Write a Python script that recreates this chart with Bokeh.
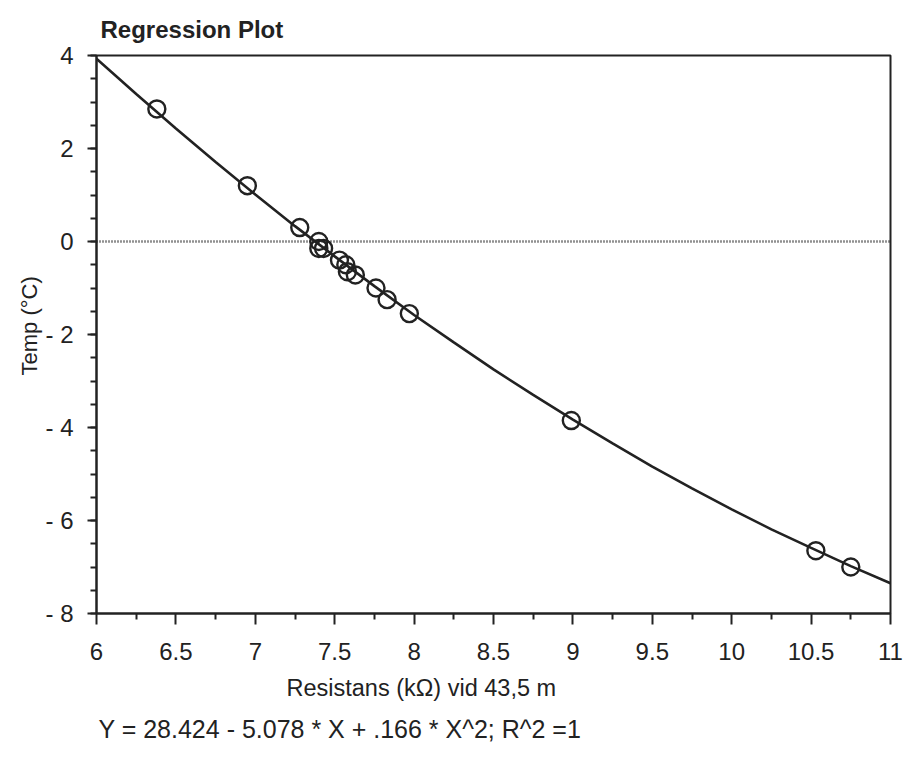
from bokeh.plotting import figure
from bokeh.models import (FixedTicker, Span, Range1d, CustomJSTickFormatter, Title)
from bokeh.embed import file_html
from bokeh.resources import INLINE

# ---- data ----
res_kohm = [6.38, 6.95, 7.28, 7.40, 7.40, 7.43, 7.53, 7.57, 7.58, 7.63,
            7.76, 7.83, 7.97, 8.99, 10.53, 10.75]
temp_c = [2.85, 1.2, 0.3, 0.0, -0.15, -0.15, -0.4, -0.5, -0.65, -0.72,
          -1.0, -1.25, -1.55, -3.85, -6.65, -7.0]

fit_x = [6.0, 6.25, 6.5, 6.75, 7.0, 7.25, 7.5, 7.75, 8.0, 8.25, 8.5,
         8.75, 9.0, 9.25, 9.5, 9.75, 10.0, 10.25, 10.5, 10.75, 11.0]
fit_y = [3.93, 3.17, 2.43, 1.71, 1.01, 0.33, -0.32, -0.96, -1.58, -2.17,
         -2.75, -3.30, -3.83, -4.34, -4.84, -5.31, -5.76, -6.19, -6.59,
         -6.98, -7.35]

x_ticks = [6, 6.5, 7, 7.5, 8, 8.5, 9, 9.5, 10, 10.5, 11]
x_minor = [6.25 + 0.5 * i for i in range(10)]
y_ticks = [-8, -6, -4, -2, 0, 2, 4]
y_minor = [-8 + 0.5 * i for i in range(25)]

title_text = "Regression Plot"
x_label = "Resistans (k\u03a9) vid 43,5 m"
y_label = "Temp (\u00b0C)"
equation = "Y = 28.424 - 5.078 * X + .166 * X^2; R^2 =1"

FONT = "Liberation Sans"
INK = "#222222"

p = figure(frame_width=794, frame_height=558, output_backend="svg",
           toolbar_location=None, x_range=Range1d(6, 11), y_range=Range1d(-8, 4),
           min_border_left=96, min_border_right=18, min_border_top=52,
           min_border_bottom=145)
p.background_fill_color = "white"
p.border_fill_color = "white"
p.outline_line_color = INK
p.outline_line_width = 2
p.xgrid.visible = False
p.ygrid.visible = False

p.title.text = title_text
p.title.text_font = FONT
p.title.text_font_size = "24px"
p.title.text_font_style = "bold"
p.title.text_color = INK
p.title.align = "left"
p.title.offset = 4
p.title.standoff = 26

for ax in (p.xaxis[0], p.yaxis[0]):
    ax.axis_line_color = INK
    ax.axis_line_width = 2
    ax.major_tick_line_color = INK
    ax.major_tick_line_width = 2
    ax.minor_tick_line_color = INK
    ax.minor_tick_line_width = 2
    ax.major_tick_in = 0
    ax.minor_tick_in = 0
    ax.major_label_text_font = FONT
    ax.major_label_text_font_size = "24px"
    ax.major_label_text_color = INK

xa = p.xaxis[0]
xa.ticker = FixedTicker(ticks=x_ticks, minor_ticks=x_minor)
xa.major_tick_out = 11
xa.minor_tick_out = 6
xa.major_label_standoff = 18
xa.formatter = CustomJSTickFormatter(code="return String(tick);")

ya = p.yaxis[0]
ya.ticker = FixedTicker(ticks=y_ticks, minor_ticks=y_minor)
ya.major_tick_out = 9
ya.minor_tick_out = 6
ya.major_label_standoff = 14
ya.formatter = CustomJSTickFormatter(
    code="return tick < 0 ? '- ' + String(Math.abs(tick)) : String(tick);")

p.add_layout(Span(location=0, dimension="width", line_color=INK,
                  line_width=2.5, line_dash="1 2"))

p.line(fit_x, fit_y, line_color=INK, line_width=2.6)
p.scatter(res_kohm, temp_c, marker="circle", size=17, fill_color=None,
          line_color=INK, line_width=2.4)

p.add_layout(Title(text=x_label, text_font=FONT, text_font_size="23.5px",
                   text_font_style="normal", text_color=INK, align="left",
                   offset=190, standoff=21), "below")
p.add_layout(Title(text=equation, text_font=FONT, text_font_size="25px",
                   text_font_style="normal", text_color=INK, align="left",
                   offset=2, standoff=2), "below")
p.add_layout(Title(text=y_label, text_font=FONT, text_font_size="22px",
                   text_font_style="normal", text_color=INK, align="left",
                   offset=238, standoff=2), "left")

open("out.html", "w").write(file_html(p, INLINE))
